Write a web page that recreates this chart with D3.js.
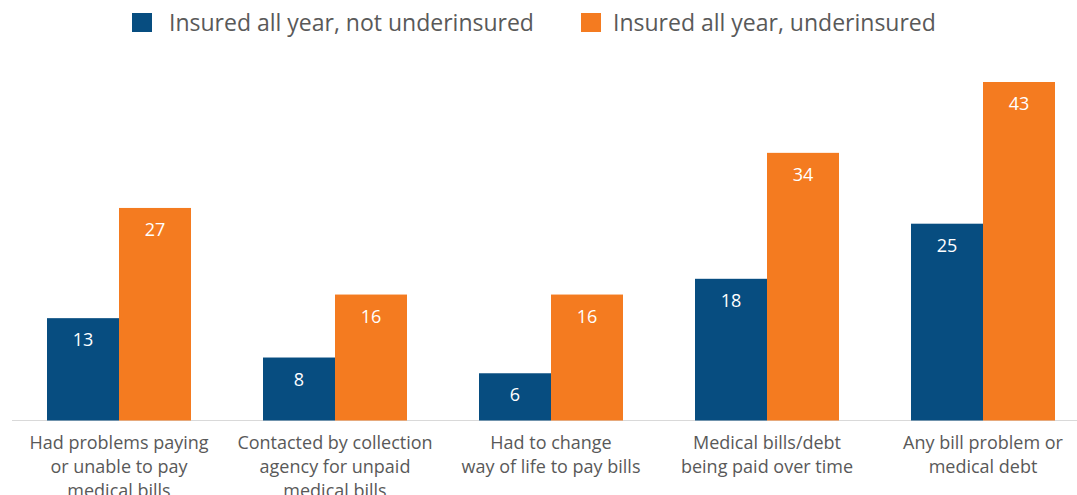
<!DOCTYPE html>
<html lang="en">
<head>
<meta charset="UTF-8"/>
<title>Medical bill problems by insurance status</title>
<script src="https://d3js.org/d3.v7.min.js"></script>
<style>
  body { margin: 0; background: #fff; }
  text { font-family: "Open Sans", "DejaVu Sans", sans-serif; }
</style>
</head>
<body>
<script>
// ---- data ----
var categories = [
  ["Had problems paying", "or unable to pay", "medical bills"],
  ["Contacted by collection", "agency for unpaid", "medical bills"],
  ["Had to change", "way of life to pay bills"],
  ["Medical bills/debt", "being paid over time"],
  ["Any bill problem or", "medical debt"]
];
var seriesNames = ["Insured all year, not underinsured", "Insured all year, underinsured"];
var notUnderinsured = [13, 8, 6, 18, 25];
var underinsured = [27, 16, 16, 34, 43];
var colors = ["#074d80", "#f47b20"];

var w = 1077, h = 495;
var baseY = 420.5;

var svg = d3.select("body").append("svg")
  .attr("width", w)
  .attr("height", h);

var x0 = d3.scaleBand()
  .domain(d3.range(categories.length))
  .range([11, 1091])
  .paddingInner(1/3)
  .paddingOuter(1/6);

var x1 = d3.scaleBand()
  .domain([0, 1])
  .range([0, x0.bandwidth()]);

var y = d3.scaleLinear()
  .domain([0, 43])
  .range([baseY, 82]);

// baseline
svg.append("line")
  .attr("x1", 12).attr("x2", w)
  .attr("y1", baseY).attr("y2", baseY)
  .attr("stroke", "#d9d9d9")
  .attr("stroke-width", 1);

var rows = categories.map(function(c, i) {
  return [notUnderinsured[i], underinsured[i]];
});

var groups = svg.selectAll("g.grp")
  .data(rows)
  .enter()
  .append("g")
  .attr("class", "grp")
  .attr("transform", function(d, i) { return "translate(" + x0(i) + ",0)"; });

groups.selectAll("rect")
  .data(function(d) { return d; })
  .enter()
  .append("rect")
  .attr("x", function(d, j) { return x1(j); })
  .attr("y", function(d) { return y(d); })
  .attr("width", x1.bandwidth())
  .attr("height", function(d) { return baseY - y(d); })
  .attr("fill", function(d, j) { return colors[j]; });

// value labels inside bars
groups.selectAll("text.val")
  .data(function(d) { return d; })
  .enter()
  .append("text")
  .attr("class", "val")
  .attr("x", function(d, j) { return x1(j) + x1.bandwidth() / 2; })
  .attr("y", function(d) { return y(d) + 28; })
  .attr("text-anchor", "middle")
  .attr("fill", "#fff")
  .attr("font-size", "18px")
  .text(function(d) { return d; });

// category labels
svg.selectAll("text.cat")
  .data(categories)
  .enter()
  .append("text")
  .attr("class", "cat")
  .attr("text-anchor", "middle")
  .attr("fill", "#595959")
  .attr("font-size", "18px")
  .attr("transform", function(d, i) { return "translate(" + (x0(i) + x0.bandwidth() / 2) + ",449)"; })
  .selectAll("tspan")
  .data(function(d) { return d; })
  .enter()
  .append("tspan")
  .attr("x", 0)
  .attr("dy", function(d, k) { return k === 0 ? 0 : 24; })
  .text(function(d) { return d; });

// legend
var legendX = [132, 581];
var legend = svg.selectAll("g.leg")
  .data(seriesNames)
  .enter()
  .append("g")
  .attr("class", "leg")
  .attr("transform", function(d, i) { return "translate(" + legendX[i] + ",0)"; });

legend.append("rect")
  .attr("x", 0).attr("y", 13)
  .attr("width", 20).attr("height", 19)
  .attr("fill", function(d, i) { return colors[i]; });

legend.append("text")
  .attr("x", function(d, i) { return i === 0 ? 37 : 32; })
  .attr("y", 31)
  .attr("fill", "#595959")
  .attr("font-size", "23px")
  .text(function(d) { return d; });
</script>
</body>
</html>
